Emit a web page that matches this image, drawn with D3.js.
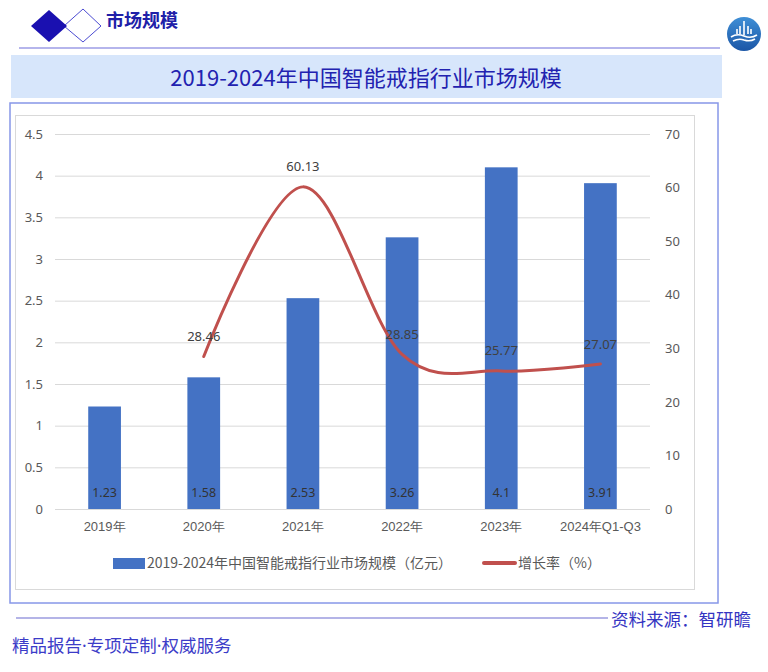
<!DOCTYPE html>
<html lang="zh">
<head>
<meta charset="UTF-8">
<script src="https://d3js.org/d3.v7.min.js"></script>
<title>2019-2024年中国智能戒指行业市场规模</title>
<style>
  body { margin: 0; background: #fff; }
  svg { display: block; font-family: "Noto Sans CJK SC", "Noto Sans", sans-serif; }
</style>
</head>
<body>
<script>
// data
const categories = ["2019年", "2020年", "2021年", "2022年", "2023年", "2024年Q1-Q3"];
const marketSize = [1.23, 1.58, 2.53, 3.26, 4.1, 3.91];        // 亿元
const growthRate = [null, 28.46, 60.13, 28.85, 25.77, 27.07];  // %
const leftTicks = [0, 0.5, 1, 1.5, 2, 2.5, 3, 3.5, 4, 4.5];
const rightTicks = [0, 10, 20, 30, 40, 50, 60, 70];

const w = 768, h = 672;
const plotLeft = 55, plotRight = 650, plotTop = 134, plotBottom = 509;

const svg = d3.select("body").append("svg").attr("width", w).attr("height", h);

// header
svg.append("polygon")
  .attr("points", "64,26 83,9 101,26 83,42")
  .attr("fill", "#fff").attr("stroke", "#4b4bd2").attr("stroke-width", 1);
svg.append("polygon")
  .attr("points", "31,26 49,10 67,26 49,42")
  .attr("fill", "#1a10b0");
svg.append("text").attr("x", 106).attr("y", 21).attr("dy", "0.35em")
  .attr("font-size", 18).attr("font-weight", "bold").attr("fill", "#2020a8")
  .text("市场规模");
svg.append("line").attr("x1", 19).attr("x2", 720).attr("y1", 48).attr("y2", 48)
  .attr("stroke", "#9d9de6").attr("stroke-width", 1.5);

// logo
const grad = svg.append("defs").append("linearGradient").attr("id", "logo")
  .attr("x1", 0).attr("y1", 0).attr("x2", 0).attr("y2", 1);
grad.append("stop").attr("offset", "0%").attr("stop-color", "#3f8fd6");
grad.append("stop").attr("offset", "100%").attr("stop-color", "#1b56a6");
svg.append("circle").attr("cx", 744).attr("cy", 34).attr("r", 17).attr("fill", "url(#logo)");
svg.append("path")
  .attr("d", "M731,37 Q737,33 744,36 Q751,39 757,35 M733,41 Q739,38 744,40 Q750,42 755,39")
  .attr("fill", "none").attr("stroke", "#fff").attr("stroke-width", 1.6);
svg.append("path")
  .attr("d", "M737,34 v-5 M740,34 v-8 M744,35 v-14 M748,34 v-8 M751,34 v-5")
  .attr("stroke", "#fff").attr("stroke-width", 1.6);

// title band
svg.append("rect").attr("x", 11).attr("y", 55).attr("width", 711).attr("height", 43).attr("fill", "#d7e6fb");
svg.append("text").attr("x", 366).attr("y", 78).attr("dy", "0.35em")
  .attr("text-anchor", "middle").attr("font-size", 22).attr("fill", "#2222b0")
  .text("2019-2024年中国智能戒指行业市场规模");

// frames
svg.append("rect").attr("x", 10).attr("y", 103).attr("width", 708).attr("height", 500)
  .attr("fill", "none").attr("stroke", "#8797e8").attr("stroke-width", 1.5);
svg.append("rect").attr("x", 15.5).attr("y", 115.5).attr("width", 679).attr("height", 474)
  .attr("fill", "none").attr("stroke", "#d9d9d9").attr("stroke-width", 1);

// scales
const x = d3.scaleBand().domain(categories).range([plotLeft, plotRight])
  .paddingInner(0.67).paddingOuter(0.335);
const yL = d3.scaleLinear().domain([0, 4.5]).range([plotBottom, plotTop]);
const yR = d3.scaleLinear().domain([0, 70]).range([plotBottom, plotTop]);
const cx = d => x(d) + x.bandwidth() / 2;

// left axis with gridlines
const gL = svg.append("g").attr("transform", `translate(${plotLeft},0)`)
  .call(d3.axisLeft(yL).tickValues(leftTicks).tickSize(-(plotRight - plotLeft)).tickPadding(12).tickFormat(d => String(d)));
gL.select(".domain").remove();
gL.selectAll("line").attr("stroke", "#d9d9d9");
gL.selectAll("text").attr("font-size", 13).attr("fill", "#595959").attr("font-family", "'Noto Sans', sans-serif");

// right axis
const gR = svg.append("g").attr("transform", `translate(${plotRight},0)`)
  .call(d3.axisRight(yR).tickValues(rightTicks).tickSize(0).tickPadding(15));
gR.select(".domain").remove();
gR.selectAll("text").attr("font-size", 13).attr("fill", "#595959").attr("font-family", "'Noto Sans', sans-serif");

// bottom axis
const gX = svg.append("g").attr("transform", `translate(0,${plotBottom})`)
  .call(d3.axisBottom(x).tickSize(0).tickPadding(13));
gX.select(".domain").remove();
gX.selectAll("text").attr("font-size", 13).attr("fill", "#595959");

// bars
svg.selectAll("rect.bar").data(categories).enter().append("rect")
  .attr("class", "bar")
  .attr("x", d => x(d))
  .attr("y", (d, i) => yL(marketSize[i]))
  .attr("width", x.bandwidth())
  .attr("height", (d, i) => plotBottom - yL(marketSize[i]))
  .attr("fill", "#4472c4");

svg.selectAll("text.barlabel").data(categories).enter().append("text")
  .attr("class", "barlabel")
  .attr("x", d => cx(d)).attr("y", plotBottom - 16).attr("dy", "0.35em")
  .attr("text-anchor", "middle").attr("font-size", 12.5).attr("fill", "#333")
  .attr("font-family", "'Noto Sans', sans-serif")
  .text((d, i) => marketSize[i]);

// growth line
const pts = categories.map((c, i) => ({ c, v: growthRate[i] })).filter(d => d.v != null);
svg.append("path").datum(pts)
  .attr("fill", "none").attr("stroke", "#c0504d").attr("stroke-width", 3).attr("stroke-linecap", "round")
  .attr("d", d3.line().x(d => cx(d.c)).y(d => yR(d.v)).curve(d3.curveCatmullRom.alpha(0)));

svg.selectAll("text.linelabel").data(pts).enter().append("text")
  .attr("class", "linelabel")
  .attr("x", d => cx(d.c)).attr("y", d => yR(d.v) - 20).attr("dy", "0.35em")
  .attr("text-anchor", "middle").attr("font-size", 13).attr("fill", "#404040")
  .attr("font-family", "'Noto Sans', sans-serif")
  .text(d => d.v);

// legend
svg.append("rect").attr("x", 113).attr("y", 558).attr("width", 32).attr("height", 11).attr("fill", "#4472c4");
svg.append("text").attr("x", 147).attr("y", 563).attr("dy", "0.35em")
  .attr("font-size", 14).attr("fill", "#595959")
  .text("2019-2024年中国智能戒指行业市场规模（亿元）");
svg.append("line").attr("x1", 484).attr("x2", 515).attr("y1", 563).attr("y2", 563)
  .attr("stroke", "#c0504d").attr("stroke-width", 4).attr("stroke-linecap", "round");
svg.append("text").attr("x", 518).attr("y", 563).attr("dy", "0.35em")
  .attr("font-size", 14).attr("fill", "#595959")
  .text("增长率（%）");

// source & footer
svg.append("line").attr("x1", 16).attr("x2", 608).attr("y1", 618).attr("y2", 618)
  .attr("stroke", "#6b6bd0").attr("stroke-width", 1.2);
svg.append("text").attr("x", 611).attr("y", 620).attr("dy", "0.35em")
  .attr("font-size", 17.5).attr("fill", "#3434c2")
  .text("资料来源：智研瞻");
const footer = svg.append("text").attr("x", 12).attr("y", 646).attr("dy", "0.35em")
  .attr("font-size", 17.5).attr("fill", "#3c3cc8");
["精品报告", "·", "专项定制", "·", "权威服务"].forEach(s => {
  const t = footer.append("tspan").text(s);
  if (s === "·") t.attr("font-family", "'Noto Sans', sans-serif");
});
</script>
</body>
</html>
